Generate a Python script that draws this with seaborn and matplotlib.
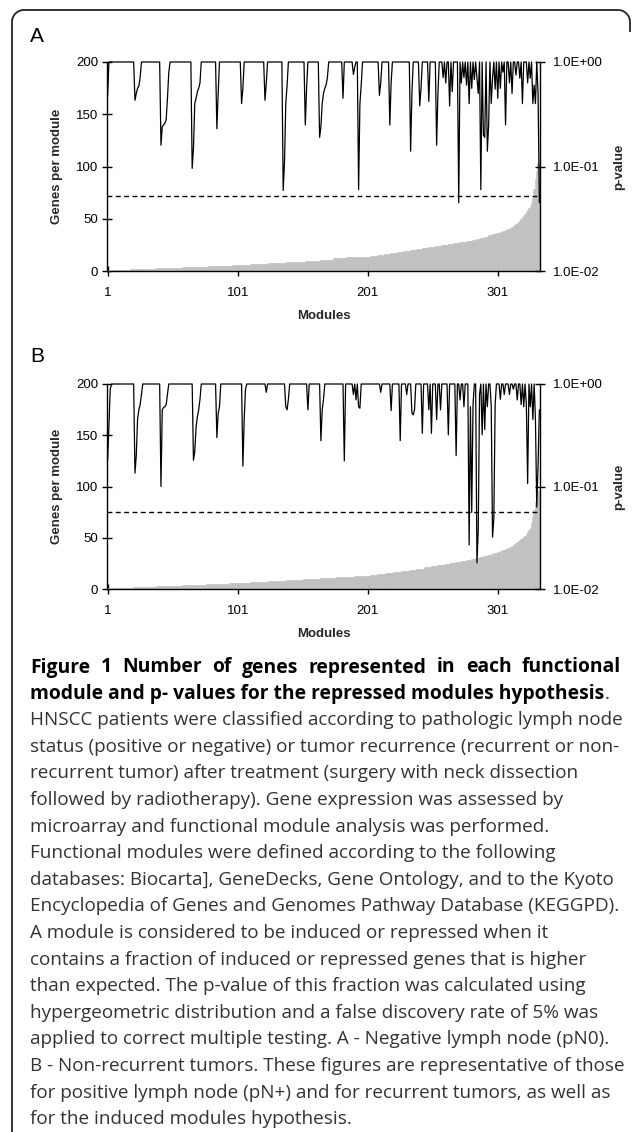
import numpy as np
import pandas as pd
import matplotlib
matplotlib.use("Agg")
import matplotlib.pyplot as plt
import seaborn as sns
from matplotlib.ticker import FixedLocator, FixedFormatter, NullLocator

# ---------------- data ----------------
N_MODULES = 333
module_ticks = [1, 101, 201, 301]
genes_ticks = [0, 50, 100, 150, 200]
p_ticks = [1e-2, 1e-1, 1e0]
p_tick_labels = ["1.0E-02", "1.0E-01", "1.0E+00"]

# genes per module (sorted): distinct sizes and how many modules have each size
sizes_A = list(range(1, 41)) + [41, 42, 43, 44, 45, 46, 47, 48, 50, 52, 53, 55, 56, 58,
                                60, 62, 65, 70, 78, 88, 96, 103, 105]
runs_A = [18, 20, 20, 20, 18, 14, 14, 14, 14, 12, 10, 10, 18,
          6, 5, 5, 5, 5, 5, 5,
          4, 5, 5, 5, 5, 4, 5, 5, 5,
          3, 3, 3, 3, 3, 3, 3,
          2, 2, 2, 2] + [1] * 23

sizes_B = list(range(1, 41)) + [41, 42, 43, 44, 45, 46, 47, 48, 49, 50, 51, 52, 54, 56,
                                58, 60, 64, 70, 77, 85, 90, 96, 98]
runs_B = [20, 18, 20, 18, 18, 16, 14, 14, 13, 13, 12, 14, 12,
          6, 6, 6, 6, 6, 6, 6,
          5, 5, 5, 5, 4, 4, 4, 4,
          3, 3, 3, 3, 3, 2, 3,
          2, 2, 2, 2, 2] + [1] * 23

# p-values below 1 (all other modules have p = 1)
dip_modules_A = [1, 22, 23, 24, 25, 26, 42, 43, 44, 45, 46, 47, 48,
                 66, 67, 68, 69, 70, 71, 72, 85, 86, 104, 105, 122, 123,
                 136, 137, 138, 139, 153, 154, 164, 165, 166, 167, 168, 169, 170,
                 182, 190, 191, 194, 195, 196, 210, 211, 218, 219, 234, 235, 241, 242,
                 248, 254, 255, 259, 261, 264, 266, 271, 273, 275, 277, 279, 281,
                 283, 285, 286, 288, 290, 291, 293, 294, 296, 297, 299, 301, 303,
                 305, 307, 310, 312, 315, 318, 320, 324, 326, 328, 329, 330, 332, 333]
dip_pvalues_A = [0.48, 0.43, 0.50, 0.56, 0.59, 0.71, 0.16, 0.24, 0.25, 0.26, 0.28, 0.45, 0.79,
                 0.096, 0.15, 0.40, 0.45, 0.52, 0.56, 0.63, 0.23, 0.50, 0.40, 0.56, 0.43, 0.63,
                 0.059, 0.11, 0.40, 0.60, 0.25, 0.56, 0.19, 0.24, 0.40, 0.50, 0.56, 0.60, 0.71,
                 0.45, 0.76, 0.89, 0.060, 0.40, 0.60, 0.48, 0.63, 0.25, 0.63, 0.14, 0.50, 0.38, 0.56,
                 0.42, 0.16, 0.50, 0.71, 0.63, 0.38, 0.52, 0.045, 0.63, 0.71, 0.60, 0.40, 0.56,
                 0.68, 0.70, 0.50, 0.060, 0.20, 0.19, 0.14, 0.25, 0.40, 0.70, 0.55, 0.45, 0.56,
                 0.80, 0.25, 0.63, 0.50, 0.75, 0.70, 0.40, 0.63, 0.70, 0.40, 0.60, 0.40, 0.50, 0.045]
threshold_A = 0.052

dip_modules_B = [1, 2, 3, 22, 23, 24, 25, 26, 27, 42, 43, 44, 45, 46, 47,
                 67, 68, 69, 70, 71, 72, 85, 86, 87, 105, 106, 107, 123,
                 138, 139, 140, 155, 165, 166, 167, 183, 190, 192, 194, 195,
                 211, 219, 226, 231, 235, 236, 237, 243, 248, 250, 254, 257,
                 263, 269, 272, 275, 279, 280, 281, 282, 285, 286, 287, 289, 291, 293,
                 296, 297, 298, 299, 303, 306, 310, 313, 316, 319, 321, 323, 324,
                 326, 328, 330, 331, 332, 333]
dip_pvalues_B = [0.18, 0.40, 0.89, 0.135, 0.20, 0.45, 0.56, 0.63, 0.79, 0.10, 0.56, 0.59, 0.60, 0.63, 0.79,
                 0.18, 0.22, 0.38, 0.48, 0.56, 0.71, 0.30, 0.52, 0.60, 0.158, 0.45, 0.89, 0.83,
                 0.60, 0.56, 0.71, 0.56, 0.28, 0.56, 0.71, 0.178, 0.79, 0.70, 0.60, 0.58,
                 0.83, 0.55, 0.28, 0.79, 0.52, 0.50, 0.56, 0.33, 0.56, 0.33, 0.45, 0.56,
                 0.32, 0.20, 0.70, 0.60, 0.027, 0.60, 0.056, 0.63, 0.018, 0.037, 0.79, 0.32, 0.36, 0.60,
                 0.60, 0.032, 0.049, 0.63, 0.71, 0.79, 0.79, 0.89, 0.70, 0.63, 0.60, 0.63, 0.107,
                 0.60, 0.45, 0.45, 0.063, 0.16, 0.56]
threshold_B = 0.056

caption_bold_1 = "Figure 1 Number of genes represented in each functional"
caption_bold_2 = "module and p- values for the repressed modules hypothesis"
caption_body = [
    "HNSCC patients were classified according to pathologic lymph node",
    "status (positive or negative) or tumor recurrence (recurrent or non-",
    "recurrent tumor) after treatment (surgery with neck dissection",
    "followed by radiotherapy). Gene expression was assessed by",
    "microarray and functional module analysis was performed.",
    "Functional modules were defined according to the following",
    "databases: Biocarta], GeneDecks, Gene Ontology, and to the Kyoto",
    "Encyclopedia of Genes and Genomes Pathway Database (KEGGPD).",
    "A module is considered to be induced or repressed when it",
    "contains a fraction of induced or repressed genes that is higher",
    "than expected. The p-value of this fraction was calculated using",
    "hypergeometric distribution and a false discovery rate of 5% was",
    "applied to correct multiple testing. A - Negative lymph node (pN0).",
    "B - Non-recurrent tumors. These figures are representative of those",
    "for positive lymph node (pN+) and for recurrent tumors, as well as",
    "for the induced modules hypothesis.",
]

# ---------------- style ----------------
sns.set_theme(style="ticks")
plt.rcParams["font.family"] = ["Liberation Sans", "DejaVu Sans"]
plt.rcParams["axes.edgecolor"] = "black"

W, H = 636, 1132
fig = plt.figure(figsize=(W / 100, H / 100), dpi=100)
fig.patch.set_facecolor("white")

# overlay in pixel coordinates for frame and texts
ov = fig.add_axes([0, 0, 1, 1], zorder=0)
ov.set_xlim(0, W)
ov.set_ylim(H, 0)
ov.axis("off")

# rounded frame (top edge + left edge)
r = 12
th = np.linspace(0, np.pi / 2, 20)
xr = list(630 - r + r * np.cos(th))
yr = list(10 + r - r * np.sin(th))
xl = list(12 + r - r * np.sin(th))
yl = list(10 + r - r * np.cos(th))
fx = [630] + xr + xl + [12]
fy = [32] + yr + yl + [H + 5]
ov.plot(fx, fy, color="#222222", lw=1.3, solid_capstyle="butt")

TICK_FS = 9.5
LAB_FS = 9.5


def panel(top_px, bot_px, sizes, runs, dmods, dps, thr, letter, letter_y):
    left_px, right_px = 107, 540
    rect = [left_px / W, 1 - bot_px / H, (right_px - left_px) / W, (bot_px - top_px) / H]
    ax = fig.add_axes(rect, zorder=2)
    genes = np.repeat(sizes, runs)
    pv = np.ones(N_MODULES)
    pv[np.array(dmods) - 1] = dps
    df = pd.DataFrame({"module": np.arange(1, N_MODULES + 1), "genes": genes, "p": pv})

    sns.barplot(data=df, x="module", y="genes", native_scale=True, color="#c0c0c0",
                saturation=1, width=1.0, edgecolor="#c0c0c0", linewidth=0.4, ax=ax)
    ax.set_xlim(0.5, N_MODULES + 0.5)
    ax.set_ylim(0, 200)
    ax.xaxis.set_major_locator(FixedLocator(module_ticks))
    ax.xaxis.set_major_formatter(FixedFormatter([str(t) for t in module_ticks]))
    ax.yaxis.set_major_locator(FixedLocator(genes_ticks))
    ax.set_xlabel("")
    ax.set_ylabel("")
    ax.tick_params(axis="x", direction="inout", length=7, width=1, pad=8,
                   labelsize=TICK_FS, colors="black")
    ax.tick_params(axis="y", direction="inout", length=7, width=1, pad=3,
                   labelsize=TICK_FS, colors="black")
    for s in ["top", "right"]:
        ax.spines[s].set_visible(False)
    for s in ["left", "bottom"]:
        ax.spines[s].set_color("black")
        ax.spines[s].set_linewidth(1.0)

    ax2 = ax.twinx()
    sns.lineplot(data=df, x="module", y="p", color="black", lw=0.9, ax=ax2)
    ax2.set_yscale("log")
    ax2.set_ylim(1e-2, 1e0)
    ax2.set_xlim(0.5, N_MODULES + 0.5)
    ax2.yaxis.set_major_locator(FixedLocator(p_ticks))
    ax2.yaxis.set_major_formatter(FixedFormatter(p_tick_labels))
    ax2.yaxis.set_minor_locator(NullLocator())
    ax2.set_ylabel("")
    ax2.set_xlabel("")
    ax2.tick_params(axis="y", direction="inout", length=7, width=1, pad=6,
                    labelsize=TICK_FS, colors="black")
    for s in ["top", "left", "bottom"]:
        ax2.spines[s].set_visible(False)
    ax2.spines["right"].set_color("black")
    ax2.spines["right"].set_linewidth(1.0)
    for ln in ax2.lines:
        ln.set_clip_on(False)
    ax2.axhline(thr, color="black", lw=1.0, ls=(0, (3.5, 2.5)))

    mid = (top_px + bot_px) / 2
    ov.text(30, letter_y, letter, fontsize=15, ha="left", va="center", color="black")
    ov.text(57, mid, "Genes per module", rotation=90, fontsize=LAB_FS, fontweight="bold",
            ha="center", va="center")
    ov.text(619, mid, "p-value", rotation=90, fontsize=LAB_FS, fontweight="bold",
            ha="center", va="center")
    ov.text((left_px + right_px) / 2, bot_px + 45, "Modules", fontsize=LAB_FS,
            fontweight="bold", ha="center", va="center")


panel(62, 271, sizes_A, runs_A, dip_modules_A, dip_pvalues_A, threshold_A, "A", 36)
panel(384, 589, sizes_B, runs_B, dip_modules_B, dip_pvalues_B, threshold_B, "B", 357)

# ---------------- caption ----------------
renderer = fig.canvas.get_renderer()
CAP_FAMILY = ["Open Sans", "DejaVu Sans"]


def text_width(text, size, weight):
    t = ov.text(0, 0, text, fontsize=size, family=CAP_FAMILY, fontweight=weight)
    w = t.get_window_extent(renderer).width
    t.remove()
    return w


def fit_size(text, weight, target_px, base=12.0):
    return base * target_px / text_width(text, base, weight)


fs_bold = fit_size(caption_bold_2, "bold", 572)
fs_body = fit_size(caption_body[0], "normal", 591)

x0 = 30
y0 = 665
dy = 26.6

# first bold line justified across the full text width
words = caption_bold_1.split(" ")
wws = [text_width(w, fs_bold, "bold") for w in words]
gap = (591 - sum(wws)) / (len(words) - 1)
xx = x0
for w, ww in zip(words, wws):
    ov.text(xx, y0, w, fontsize=fs_bold, family=CAP_FAMILY, fontweight="bold",
            ha="left", va="center_baseline", color="black")
    xx += ww + gap

t2 = ov.text(x0, y0 + dy, caption_bold_2, fontsize=fs_bold, family=CAP_FAMILY,
             fontweight="bold", ha="left", va="center_baseline", color="black")
bb = t2.get_window_extent(renderer)
ov.text(x0 + bb.width, y0 + dy, ".", fontsize=fs_body, family=CAP_FAMILY,
        ha="left", va="center_baseline", color="#333333")
for i, line in enumerate(caption_body):
    ov.text(x0, y0 + (i + 2) * dy, line, fontsize=fs_body, family=CAP_FAMILY,
            ha="left", va="center_baseline", color="#333333")

fig.savefig("out.png", dpi=100, facecolor="white")
